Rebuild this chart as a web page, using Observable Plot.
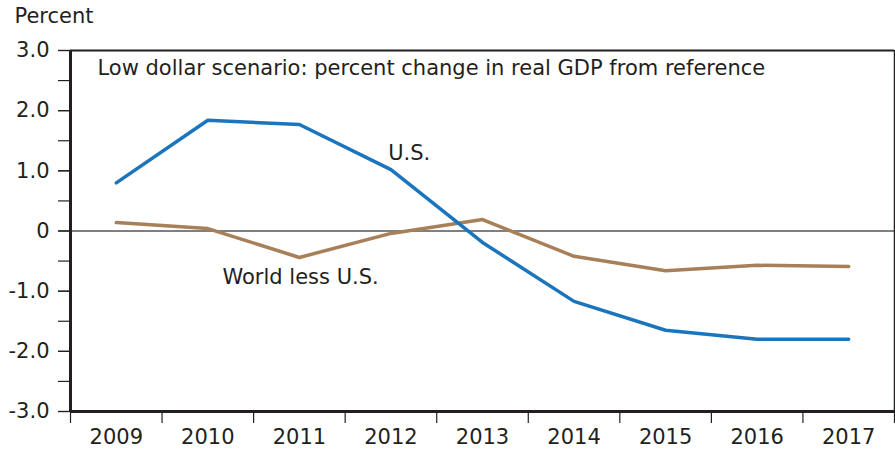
<!DOCTYPE html>
<html><head><meta charset="utf-8">
<script src="https://cdn.jsdelivr.net/npm/d3@7"></script>
<script src="https://cdn.jsdelivr.net/npm/@observablehq/plot@0.6"></script>
<style>body{margin:0;background:#fff;} svg{font-family:"DejaVu Sans",sans-serif;}</style>
</head><body><div id="chart"></div>
<script>
const years = [2009, 2010, 2011, 2012, 2013, 2014, 2015, 2016, 2017];
const usValues = [0.80, 1.84, 1.77, 1.02, -0.19, -1.17, -1.65, -1.80, -1.80];
const worldValues = [0.14, 0.04, -0.44, -0.04, 0.19, -0.42, -0.66, -0.57, -0.59];
const yTicks = [-3, -2.5, -2, -1.5, -1, -0.5, 0, 0.5, 1, 1.5, 2, 2.5, 3];
const yLabels = [-3, -2, -1, 0, 1, 2, 3];
const xBoundaries = [2008.5, 2009.5, 2010.5, 2011.5, 2012.5, 2013.5, 2014.5, 2015.5, 2016.5, 2017.5];
const seriesLabels = [
  {text: "U.S.", year: 2011.97, value: 1.30},
  {text: "World less U.S.", year: 2010.16, value: -0.77}
];
const title = "Low dollar scenario: percent change in real GDP from reference";

const us = years.map((y, i) => ({year: y, value: usValues[i]}));
const world = years.map((y, i) => ({year: y, value: worldValues[i]}));
const fmt = v => v === 0 ? "0" : v.toFixed(1);
const ink = "#231f20";

const chart = Plot.plot({
  width: 895, height: 452,
  marginLeft: 70, marginTop: 50, marginRight: 1, marginBottom: 41,
  style: {fontFamily: "DejaVu Sans, sans-serif", fontSize: "21px", color: ink, background: "#fff"},
  x: {type: "linear", domain: [2008.5, 2017.5], label: null},
  y: {type: "linear", domain: [-3, 3], label: null},
  marks: [
    Plot.axisY(yTicks, {tickFormat: () => "", tickSize: 12, stroke: ink, strokeWidth: 1.2, label: null}),
    Plot.axisY(yLabels, {tickFormat: fmt, tickSize: 12, tickPadding: 9, fontSize: 21, stroke: ink, strokeWidth: 1.2, label: null}),
    Plot.axisX(xBoundaries, {tickFormat: () => "", tickSize: 12, stroke: ink, strokeWidth: 1.2, label: null}),
    Plot.axisX(years, {tickFormat: d => String(d), tickSize: 0, tickPadding: 18, fontSize: 21, label: null}),
    Plot.ruleY([0], {stroke: "#000", strokeWidth: 1}),
    Plot.ruleY([3], {stroke: ink, strokeWidth: 2}),
    Plot.ruleX([2017.5], {stroke: ink, strokeWidth: 1.5}),
    Plot.ruleY([-3], {stroke: ink, strokeWidth: 3}),
    Plot.ruleX([2008.5], {stroke: ink, strokeWidth: 3}),
    Plot.line(world, {x: "year", y: "value", stroke: "#a77f59", strokeWidth: 3.5}),
    Plot.line(us, {x: "year", y: "value", stroke: "#1a75bd", strokeWidth: 3.5}),
    Plot.text(seriesLabels, {x: "year", y: "value", text: "text", textAnchor: "start", fontSize: 21, fill: ink}),
    Plot.text([title], {frameAnchor: "top-left", dx: 27, dy: 10, textAnchor: "start", lineAnchor: "top", fontSize: 21, fill: ink}),
    Plot.text(["Percent"], {frameAnchor: "top-left", dx: -56, dy: -42, textAnchor: "start", lineAnchor: "top", fontSize: 21, fill: ink})
  ]
});
document.getElementById("chart").appendChild(chart);
</script></body></html>
